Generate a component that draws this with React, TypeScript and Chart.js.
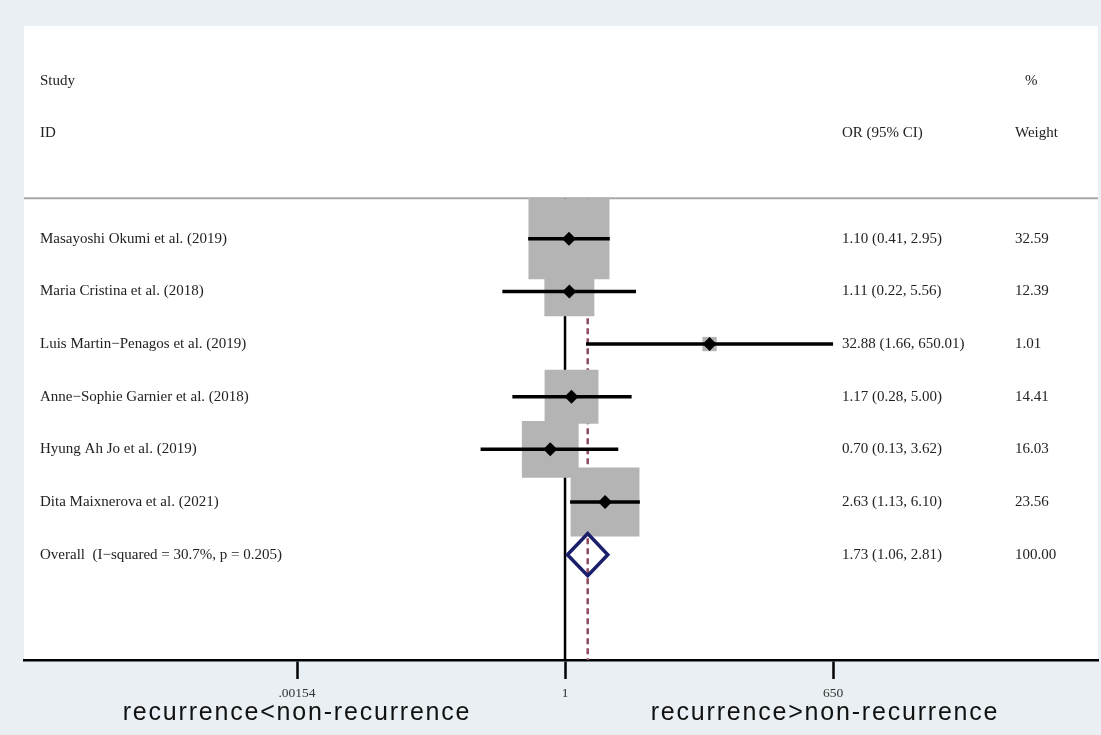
import React, { useEffect, useRef } from "react";
import { Chart, registerables } from "chart.js";

Chart.register(...registerables);

// ---------- data ----------
const studyLabels = [
  "Masayoshi Okumi et al. (2019)",
  "Maria Cristina et al. (2018)",
  "Luis Martin\u2212Penagos et al. (2019)",
  "Anne\u2212Sophie Garnier et al. (2018)",
  "Hyung Ah Jo et al. (2019)",
  "Dita Maixnerova et al. (2021)",
];
const orValues = [1.1, 1.11, 32.88, 1.17, 0.7, 2.63];
const ciLow = [0.41, 0.22, 1.66, 0.28, 0.13, 1.13];
const ciHigh = [2.95, 5.56, 650.01, 5.0, 3.62, 6.1];
const weights = [32.59, 12.39, 1.01, 14.41, 16.03, 23.56];

const overallLabel = "Overall  (I\u2212squared = 30.7%, p = 0.205)";
const overallOR = 1.73;
const overallLow = 1.06;
const overallHigh = 2.81;
const overallWeight = 100.0;

const tickValues = [0.00154, 1, 650];
const tickLabels = [".00154", "1", "650"];

const headerStudy = ["Study", "ID"];
const headerOR = "OR (95% CI)";
const headerWeight = ["%", "Weight"];
const leftSideLabel = "recurrence<non-recurrence";
const rightSideLabel = "recurrence>non-recurrence";

// ---------- component ----------
export default function App() {
  const ref = useRef<HTMLCanvasElement>(null);

  useEffect(() => {
    const canvas = ref.current;
    if (!canvas) return;

    const rowY = studyLabels.map((_, i) => i + 1);
    const overallRow = studyLabels.length + 1;
    const sepRow = 0.23;
    const axisRow = 9;
    const maxBox = 81;
    const maxW = Math.max(...weights);
    const boxRadius = weights.map((w) => (maxBox * Math.sqrt(w / maxW)) / Math.SQRT2);

    const serif = '"Liberation Serif", "Times New Roman", serif';
    const fmt = (v: number) => v.toFixed(2);

    const datasets: any[] = [];
    datasets.push({
      label: "null",
      data: [
        { x: 1, y: sepRow },
        { x: 1, y: axisRow },
      ],
      showLine: true,
      borderColor: "#000",
      borderWidth: 2.5,
      pointRadius: 0,
      order: 6,
    });
    datasets.push({
      label: "overall-line",
      data: [
        { x: overallOR, y: sepRow },
        { x: overallOR, y: axisRow },
      ],
      showLine: true,
      borderColor: "#8e4a5c",
      borderWidth: 2.5,
      borderDash: [6, 4],
      pointRadius: 0,
      order: 5,
    });
    datasets.push({
      label: "boxes",
      data: orValues.map((v, i) => ({ x: v, y: rowY[i] })),
      pointStyle: "rect",
      pointRadius: boxRadius,
      pointHoverRadius: boxRadius,
      backgroundColor: "#b4b4b4",
      borderWidth: 0,
      pointBorderWidth: 0,
      order: 4,
    });
    studyLabels.forEach((_, i) => {
      datasets.push({
        label: "ci" + i,
        data: [
          { x: ciLow[i], y: rowY[i] },
          { x: ciHigh[i], y: rowY[i] },
        ],
        showLine: true,
        borderColor: "#000",
        borderWidth: 3.5,
        pointRadius: 0,
        order: 3,
      });
    });
    datasets.push({
      label: "estimates",
      data: orValues.map((v, i) => ({ x: v, y: rowY[i] })),
      pointStyle: "rectRot",
      pointRadius: 7,
      pointHoverRadius: 7,
      backgroundColor: "#000",
      borderWidth: 0,
      pointBorderWidth: 0,
      order: 2,
    });
    const dh = 0.4;
    datasets.push({
      label: "diamond",
      data: [
        { x: overallLow, y: overallRow },
        { x: overallOR, y: overallRow - dh },
        { x: overallHigh, y: overallRow },
        { x: overallOR, y: overallRow + dh },
        { x: overallLow, y: overallRow },
        { x: overallOR, y: overallRow - dh },
      ],
      showLine: true,
      borderColor: "#1a1f6b",
      borderWidth: 3.5,
      borderJoinStyle: "miter",
      pointRadius: 0,
      order: 1,
    });

    const forestPlugin = {
      id: "forestText",
      beforeDraw(chart: any) {
        const { ctx, chartArea } = chart;
        ctx.save();
        ctx.fillStyle = "#ffffff";
        ctx.fillRect(chartArea.left, chartArea.top, chartArea.right - chartArea.left, chartArea.bottom - chartArea.top);
        ctx.restore();
      },
      beforeDatasetsDraw(chart: any) {
        const { ctx, chartArea } = chart;
        const y = chart.scales.y.getPixelForValue(sepRow);
        ctx.save();
        ctx.strokeStyle = "#a8a8a8";
        ctx.lineWidth = 2;
        ctx.beginPath();
        ctx.moveTo(chartArea.left, y);
        ctx.lineTo(chartArea.right, y);
        ctx.stroke();
        ctx.restore();
      },
      afterDraw(chart: any) {
        const { ctx, chartArea } = chart;
        const ys = chart.scales.y;
        const xStudy = chartArea.left + 16;
        const xOR = chartArea.left + 818;
        const xW = chartArea.left + 991;
        ctx.save();
        ctx.fillStyle = "#222";
        ctx.font = `15px ${serif}`;
        ctx.textBaseline = "middle";
        ctx.textAlign = "left";
        // headers
        ctx.fillText(headerStudy[0], xStudy, ys.getPixelForValue(-2));
        ctx.fillText(headerStudy[1], xStudy, ys.getPixelForValue(-1));
        ctx.fillText(headerOR, xOR, ys.getPixelForValue(-1));
        ctx.fillText(headerWeight[0], xW + 10, ys.getPixelForValue(-2));
        ctx.fillText(headerWeight[1], xW, ys.getPixelForValue(-1));
        // rows
        studyLabels.forEach((lab, i) => {
          const y = ys.getPixelForValue(rowY[i]);
          ctx.fillText(lab, xStudy, y);
          ctx.fillText(`${fmt(orValues[i])} (${fmt(ciLow[i])}, ${fmt(ciHigh[i])})`, xOR, y);
          ctx.fillText(fmt(weights[i]), xW, y);
        });
        const yo = ys.getPixelForValue(overallRow);
        ctx.fillText(overallLabel, xStudy, yo);
        ctx.fillText(`${fmt(overallOR)} (${fmt(overallLow)}, ${fmt(overallHigh)})`, xOR, yo);
        ctx.fillText(fmt(overallWeight), xW, yo);

        // side labels below axis
        ctx.fillStyle = "#111";
        ctx.font = '25px "Liberation Sans", Arial, sans-serif';
        ctx.textBaseline = "alphabetic";
        ctx.textAlign = "center";
        (ctx as any).letterSpacing = "1.8px";
        ctx.fillText(leftSideLabel, 297, 720);
        ctx.fillText(rightSideLabel, 825, 720);
        ctx.restore();
      },
    };

    const chart = new Chart(canvas, {
      type: "scatter",
      data: { datasets },
      options: {
        animation: false,
        responsive: false,
        devicePixelRatio: 1,
        events: [],
        layout: { autoPadding: false, padding: { left: 24, right: 3, top: 26, bottom: 0 } },
        plugins: {
          legend: { display: false },
          tooltip: { enabled: false },
        },
        scales: {
          x: {
            type: "logarithmic",
            min: 2.1e-6,
            max: 3.92e5,
            bounds: "data",
            afterBuildTicks: (s: any) => {
              s.ticks = tickValues.map((v) => ({ value: v }));
            },
            afterFit: (s: any) => {
              s.height = 75;
            },
            border: { display: true, color: "#000", width: 2.5 },
            grid: {
              display: true,
              drawOnChartArea: false,
              drawTicks: true,
              tickLength: 19,
              tickWidth: 2.5,
              tickColor: "#000",
            },
            ticks: {
              autoSkip: false,
              maxRotation: 0,
              padding: 6,
              color: "#333",
              font: { family: serif, size: 13.5 },
              callback: (_v: any, i: number) => tickLabels[i],
            },
          },
          y: {
            type: "linear",
            reverse: true,
            min: -3.04,
            max: 9,
            display: false,
          },
        },
      },
      plugins: [forestPlugin],
    } as any);

    return () => chart.destroy();
  }, []);

  return (
    <div
      style={{
        position: "fixed",
        left: 0,
        top: 0,
        width: 1101,
        height: 735,
        background: "#e9eff2",
      }}
    >
      <canvas ref={ref} width={1101} height={735} style={{ display: "block" }} />
    </div>
  );
}
